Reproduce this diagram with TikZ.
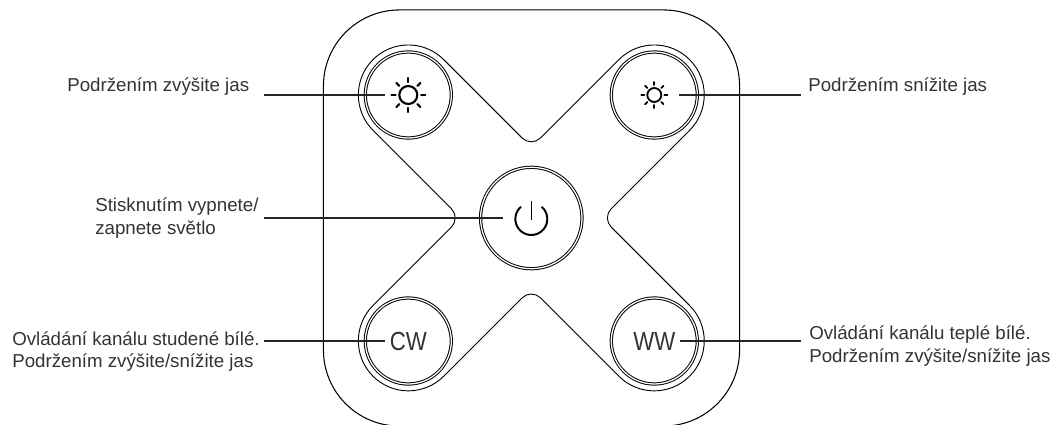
\documentclass[tikz,border=0pt]{standalone}
\usepackage{fontspec}
\setmainfont{Liberation Sans}
\newfontfamily\btnfont[FakeStretch=0.85]{Liberation Sans}
\usepackage{tikz}
\usetikzlibrary{positioning}

\tikzset{
    lbl/.style={anchor=west, align=left, inner sep=0pt, text=black!80, font=\fontsize{13.3}{16}\selectfont},
    btn/.style={circle, draw, double, line width=0.7pt, double distance=0.9pt, inner sep=0pt, fill=white},
    ray/.style={line width=1.5pt, line cap=round},
    leader/.style={line width=0.9pt, black!85},
    icon/.style={circle, inner sep=0pt, outer sep=0pt},
    btntxt/.style={inner sep=0pt, outer sep=1.2mm, text=black!80, font=\btnfont\fontsize{18.6}{19}\selectfont}
}

\begin{document}
\begin{tikzpicture}[x=0.025cm, y=0.025cm]
    \clip (0,0) rectangle (1056,424);

    % Housing
    \node[draw, line width=0.75pt, rounded corners=1.9cm, minimum width=10.4cm, minimum height=10.4cm] (case) at (531.5,206) {};

    % X outline round the buttons
    \draw[line width=0.65pt] (443.7,364.4) -- ++(78.4,-78.4) arc[start angle=225, end angle=315, radius=13]
        -- ++(78.4,78.4) arc[start angle=135, end angle=-45, radius=50]
        -- ++(-78.4,-78.4) arc[start angle=135, end angle=225, radius=13]
        -- ++(78.4,-78.4) arc[start angle=45, end angle=-135, radius=50]
        -- ++(-78.4,78.4) arc[start angle=45, end angle=135, radius=13]
        -- ++(-78.4,-78.4) arc[start angle=-45, end angle=-225, radius=50]
        -- ++(78.4,78.4) arc[start angle=-45, end angle=45, radius=13]
        -- ++(-78.4,78.4) arc[start angle=225, end angle=45, radius=50] -- cycle;

    % Buttons
    \node[btn, minimum size=2.15cm] (btnTL) at (408.3,329) {};
    \node[btn, minimum size=2.15cm] (btnTR) at (654.3,329) {};
    \node[btn, minimum size=2.15cm] (btnBL) at (408.3,83) {};
    \node[btn, minimum size=2.15cm] (btnBR) at (654.3,83) {};
    \node[btn, minimum size=2.535cm] (btnC) at (531.3,206) {};

    % Brighter sun
    \node[icon, minimum size=1.15cm] (sunTL) at (btnTL) {};
    \draw[ray] (sunTL.center) circle[radius=9];
    \foreach \a in {0,45,...,315} {
        \draw[ray] (sunTL.center) ++(\a:12.8) -- ++(\a:4.2);
    }

    % Dimmer sun
    \node[icon, minimum size=1.24cm] (sunTR) at (btnTR) {};
    \draw[ray, line width=1.3pt] (sunTR.center) circle[radius=7];
    \foreach \a in {0,45,...,315} {
        \draw[ray, line width=1.3pt] (sunTR.center) ++(\a:10) -- ++(\a:3);
    }

    % Power symbol
    \node[icon, minimum size=1.43cm] (pwr) at (btnC) {};
    \draw[line width=1.4pt] (531.3,205) ++(50:16) arc[start angle=50, end angle=-230, radius=16];
    \draw[line width=1pt] (531.3,223) -- (531.3,204);

    % Button captions
    \node[btntxt] (txtCW) at (btnBL) {CW};
    \node[btntxt] (txtWW) at (btnBR) {WW};

    % Texts
    \node[lbl] (lblTL) at (67,337) {Podržením zvýšite jas};
    \node[lbl] (lblTR) at (808,337) {Podržením snížite jas};
    \node[lbl] (lblC) at (95,206) {Stisknutím vypnete/\\zapnete světlo};
    \node[lbl] (lblBL) at (12,72.5) {Ovládání kanálu studené bílé.\\Podržením zvýšite/snížite jas};
    \node[lbl] (lblBR) at (809,78) {Ovládání kanálu teplé bílé.\\Podržením zvýšite/snížite jas};

    % Leader lines
    \coordinate (endTL) at (264,329);
    \coordinate (endTR) at (800.5,329);
    \coordinate (endC) at (264,206);
    \coordinate (endBL) at (263.5,83);
    \coordinate (endBR) at (800.5,83);
    \draw[leader] (endTL) -- (sunTL);
    \draw[leader] (endTR) -- (sunTR);
    \draw[leader] (endC) -- (pwr);
    \draw[leader] (endBL) -- (txtCW);
    \draw[leader] (endBR) -- (txtWW);
\end{tikzpicture}
\end{document}
